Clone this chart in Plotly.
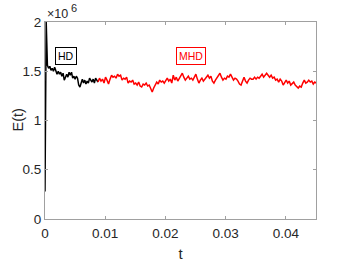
import numpy as np
import plotly.graph_objects as go

# HD phase (black), energy in units of 1e6
hd_dt = 0.0002
hd_E = [0.28, 2.0, 1.56, 1.53, 1.55, 1.51, 1.53, 1.50, 1.54, 1.50,
        1.47, 1.50, 1.47, 1.49, 1.45, 1.48, 1.41, 1.44, 1.47, 1.44,
        1.49, 1.46, 1.49, 1.43, 1.45, 1.42, 1.45, 1.43, 1.36, 1.34,
        1.38, 1.42, 1.38, 1.41, 1.37, 1.40, 1.38, 1.43, 1.41, 1.39,
        1.42, 1.38, 1.43, 1.40, 1.39]
hd_t = np.arange(len(hd_E)) * hd_dt

# MHD phase (red)
mhd_t0 = 0.0088
mhd_dt = 0.00025
mhd_E = [1.39, 1.43, 1.40, 1.42, 1.38, 1.44, 1.41, 1.37, 1.42, 1.46,
         1.44, 1.45, 1.43, 1.47, 1.45, 1.46, 1.41, 1.43, 1.42, 1.44,
         1.38, 1.40, 1.39, 1.41, 1.37, 1.38, 1.36, 1.39, 1.35, 1.34,
         1.37, 1.36, 1.38, 1.35, 1.36, 1.32, 1.29, 1.33, 1.37, 1.39,
         1.37, 1.41, 1.39, 1.40, 1.38, 1.41, 1.43, 1.40, 1.42, 1.38,
         1.46, 1.41, 1.44, 1.40, 1.43, 1.45, 1.48, 1.44, 1.41, 1.43,
         1.45, 1.42, 1.43, 1.41, 1.44, 1.47, 1.42, 1.38, 1.41, 1.43,
         1.40, 1.42, 1.44, 1.46, 1.43, 1.45, 1.40, 1.38, 1.41, 1.43,
         1.46, 1.48, 1.44, 1.41, 1.43, 1.42, 1.45, 1.44, 1.47, 1.43,
         1.41, 1.43, 1.42, 1.40, 1.37, 1.36, 1.41, 1.44, 1.40, 1.38,
         1.41, 1.43, 1.42, 1.42, 1.44, 1.42, 1.44, 1.43, 1.45, 1.47,
         1.44, 1.46, 1.48, 1.46, 1.44, 1.46, 1.43, 1.44, 1.41, 1.42,
         1.39, 1.42, 1.40, 1.36, 1.38, 1.41, 1.38, 1.40, 1.36, 1.38,
         1.39, 1.36, 1.34, 1.33, 1.35, 1.34, 1.38, 1.41, 1.38, 1.39,
         1.41, 1.39, 1.40, 1.37, 1.39, 1.38]
mhd_t = mhd_t0 + np.arange(len(mhd_E)) * mhd_dt

scale = 1e6
x_ticks = [0, 0.01, 0.02, 0.03, 0.04]
x_labels = ["0", "0.01", "0.02", "0.03", "0.04"]
y_ticks = [0, 0.5, 1, 1.5, 2]
y_labels = ["0", "0.5", "1", "1.5", "2"]

font = "Liberation Sans, Arial, sans-serif"
axcol = "#a0a0a0"
txtcol = "#262626"

fig = go.Figure()
fig.add_trace(go.Scatter(x=hd_t, y=np.array(hd_E) * scale, mode="lines",
                         line=dict(color="black", width=1.5), showlegend=False))
fig.add_trace(go.Scatter(x=mhd_t, y=np.array(mhd_E) * scale, mode="lines",
                         line=dict(color="#ff0000", width=1.5), showlegend=False))

fig.add_annotation(x=0.0035, y=1.655e6, text="HD", showarrow=False,
                   font=dict(family=font, size=10.5, color="black"),
                   bordercolor="black", borderwidth=1, borderpad=2, bgcolor="white")
fig.add_annotation(x=0.0242, y=1.655e6, text="MHD", showarrow=False,
                   font=dict(family=font, size=10.5, color="#ff0000"),
                   bordercolor="#ff0000", borderwidth=1, borderpad=2, bgcolor="white")
# exponent label (×10^6)
fig.add_annotation(x=0, y=1, xref="paper", yref="paper", xanchor="left", yanchor="bottom",
                   text="×10", showarrow=False, yshift=-1, xshift=0,
                   font=dict(family=font, size=12.5, color=txtcol))
fig.add_annotation(x=0, y=1, xref="paper", yref="paper", xanchor="left", yanchor="bottom",
                   text="6", showarrow=False, yshift=6, xshift=24,
                   font=dict(family=font, size=11, color=txtcol))
# y-axis title
fig.add_annotation(x=-0.1033, y=0.5, xref="paper", yref="paper", xanchor="center",
                   yanchor="middle", text="E(t)", textangle=-90, showarrow=False,
                   font=dict(family=font, size=14.5, color=txtcol))

fig.update_layout(
    width=349, height=262,
    margin=dict(l=45, r=33, t=22, b=43),
    paper_bgcolor="white", plot_bgcolor="white",
    font=dict(family=font, size=13.5, color=txtcol),
    xaxis=dict(range=[0, 0.045], tickvals=x_ticks, ticktext=x_labels, automargin=False,
               ticks="inside", ticklen=3, tickcolor=axcol, showline=True,
               linecolor=axcol, linewidth=1, mirror="ticks", showgrid=False,
               zeroline=False, ticklabelstandoff=2,
               title=dict(text="t", font=dict(size=15), standoff=8)),
    yaxis=dict(range=[0, 2e6], tickvals=[v * scale for v in y_ticks], ticktext=y_labels,
               automargin=False,
               ticks="inside", ticklen=3, tickcolor=axcol, showline=True,
               linecolor=axcol, linewidth=1, mirror="ticks", showgrid=False,
               zeroline=False, ticklabelstandoff=0),
)

fig.write_html("out.html", config={"displayModeBar": False},
               post_script="document.body.style.margin='0';")
